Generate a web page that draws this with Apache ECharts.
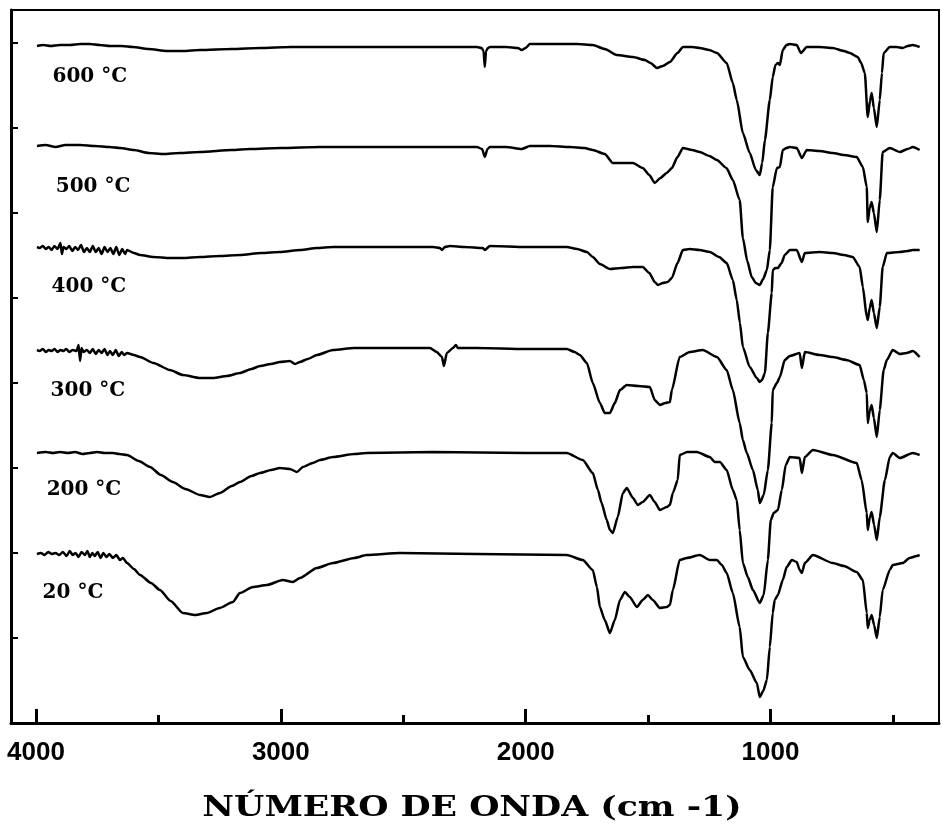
<!DOCTYPE html>
<html>
<head>
<meta charset="utf-8">
<script src="https://cdn.jsdelivr.net/npm/echarts@6/dist/echarts.min.js"></script>
<style>
  html, body { margin: 0; padding: 0; background: #ffffff; }
  #chart { width: 942px; height: 828px; }
</style>
</head>
<body>
<div id="chart"></div>
<script>
// FTIR spectra of the calcined samples: [wavenumber (cm-1), transmittance (a.u., stacked)]
const temperatures = ['600 °C', '500 °C', '400 °C', '300 °C', '200 °C', '20 °C'];
const axisTitle = 'NÚMERO DE ONDA (cm -1)';

const spectrum600 = [
  [3996,677],[3970,678],[3940,677],[3902,678],[3860,678],[3820,679],[3780,679],[3740,678],[3698,677],[3650,677],
  [3604,676],[3540,674],[3465,672],[3400,672],[3330,673],[3200,674],[3085,675],[2960,676],[2840,676],[2700,676],
  [2514,676],[2350,676],[2199,676],[2180,675],[2172,672],[2167,656],[2162,672],[2154,675],[2146,676],[2080,676],
  [2032,675],[2016,673],[2000,675],[1983,679],[1920,679],[1860,679],[1790,679],[1726,678],[1677,674],[1628,668],
  [1562,666],[1513,663],[1490,660],[1464,655],[1440,657],[1411,661],[1380,670],[1358,676],[1320,676],[1289,675],
  [1250,673],[1219,670],[1179,660],[1154,640],[1138,623],[1113,590],[1085,570],[1060,553],[1044,548],[1034,560],
  [1023,583],[1003,623],[991,646],[980,658],[970,660],[962,658],[950,673],[935,678],[921,679],[893,678],
  [876,670],[852,676],[800,676],[746,675],[700,672],[676,670],[644,666],[630,660],[615,650],[603,606],
  [594,622],[587,630],[578,615],[566,596],[554,623],[545,650],[538,670],[513,676],[485,676],[460,675],
  [440,677],[419,678],[391,676]
];

const spectrum500 = [
  [3996,577],[3960,578],[3920,576],[3880,578],[3820,578],[3760,577],[3700,576],[3657,575],[3600,573],[3540,570],
  [3481,569],[3412,570],[3330,571],[3200,573],[3126,574],[3000,575],[2840,576],[2700,576],[2514,576],[2350,576],
  [2199,576],[2178,574],[2167,566],[2156,574],[2146,576],[2080,576],[2016,574],[1983,577],[1900,577],[1820,576],
  [1760,575],[1726,573],[1677,569],[1644,560],[1600,560],[1562,560],[1522,555],[1495,548],[1473,540],[1450,545],
  [1424,550],[1403,555],[1380,566],[1358,575],[1320,573],[1289,571],[1250,567],[1219,563],[1180,555],[1154,543],
  [1126,523],[1113,485],[1095,462],[1077,446],[1060,440],[1044,438],[1030,444],[1015,453],[1003,473],[991,536],
  [974,555],[962,556],[950,573],[935,575],[921,576],[893,575],[872,565],[852,573],[800,572],[746,570],
  [700,568],[648,566],[623,556],[607,536],[603,501],[595,515],[587,521],[578,510],[566,491],[554,523],
  [542,571],[513,575],[472,571],[440,574],[419,576],[391,573]
];

const spectrum400 = [
  [3996,476],[3985,475],[3972,477],[3960,474],[3948,476],[3936,473],[3925,477],[3912,474],[3900,480],[3894,469],
  [3888,476],[3876,474],[3864,477],[3852,472],[3840,476],[3828,473],[3816,478],[3804,471],[3792,475],[3780,471],
  [3768,477],[3756,471],[3744,475],[3732,469],[3720,476],[3708,471],[3696,475],[3684,469],[3672,476],[3660,468],
  [3648,474],[3636,469],[3628,473],[3600,470],[3575,468],[3520,466],[3453,465],[3400,465],[3330,466],[3250,467],
  [3167,468],[3080,470],[3004,471],[2920,473],[2853,475],[2787,476],[2600,476],[2379,476],[2350,475],[2342,473],
  [2330,476],[2310,477],[2250,476],[2175,475],[2167,473],[2146,477],[2000,476],[1832,476],[1790,474],[1750,471],
  [1726,466],[1697,459],[1656,454],[1610,455],[1562,456],[1522,456],[1495,450],[1473,441],[1460,438],[1440,440],
  [1420,441],[1403,445],[1380,460],[1358,473],[1330,474],[1290,473],[1248,471],[1210,466],[1179,460],[1154,443],
  [1138,423],[1125,400],[1113,376],[1085,356],[1056,345],[1044,341],[1035,343],[1023,350],[1011,390],[995,430],
  [991,453],[980,455],[970,455],[955,460],[942,468],[921,473],[893,473],[872,461],[860,470],[800,471],
  [746,470],[700,468],[664,466],[636,456],[623,436],[607,406],[603,403],[595,415],[587,423],[578,410],
  [566,395],[554,416],[542,456],[525,470],[472,471],[440,472],[419,473],[391,473]
];

const spectrum300 = [
  [3996,373],[3985,372],[3972,374],[3960,371],[3948,373],[3936,372],[3924,374],[3912,371],[3900,373],[3888,372],
  [3876,374],[3864,371],[3850,373],[3834,372],[3826,378],[3820,362],[3814,375],[3806,371],[3792,373],[3780,370],
  [3768,374],[3756,369],[3744,373],[3732,370],[3720,374],[3708,368],[3698,372],[3686,368],[3674,373],[3662,367],
  [3650,371],[3640,368],[3628,370],[3600,368],[3575,366],[3520,360],[3453,353],[3400,348],[3330,345],[3277,345],
  [3220,347],[3167,350],[3120,354],[3085,357],[3040,359],[3004,361],[2963,362],[2942,359],[2922,361],[2890,364],
  [2853,368],[2787,373],[2700,375],[2649,375],[2500,375],[2391,375],[2363,371],[2342,366],[2334,357],[2322,370],
  [2297,375],[2285,378],[2277,375],[2200,375],[2000,374],[1832,374],[1800,371],[1779,368],[1750,360],[1726,340],
  [1697,320],[1677,310],[1656,310],[1636,320],[1615,333],[1587,338],[1540,337],[1493,336],[1473,323],[1452,318],
  [1430,320],[1411,321],[1403,333],[1371,366],[1330,371],[1277,373],[1219,366],[1179,353],[1154,333],[1126,300],
  [1113,283],[1097,270],[1072,253],[1052,233],[1044,220],[1028,228],[1011,253],[995,300],[991,333],[974,340],
  [962,346],[942,363],[921,367],[881,370],[872,355],[860,371],[800,368],[746,366],[690,363],[636,358],
  [619,343],[607,330],[603,300],[595,312],[587,318],[578,305],[566,286],[554,313],[538,353],[525,363],
  [501,373],[472,369],[444,370],[419,372],[391,366]
];

const spectrum200 = [
  [3996,270],[3960,271],[3930,270],[3902,271],[3870,270],[3840,271],[3810,269],[3780,270],[3750,271],[3720,270],
  [3686,270],[3660,269],[3628,268],[3580,262],[3534,256],[3490,248],[3441,241],[3390,234],[3330,228],[3290,226],
  [3249,230],[3200,237],[3167,241],[3120,247],[3085,250],[3040,253],[3004,255],[2963,254],[2934,251],[2910,256],
  [2870,260],[2840,263],[2787,266],[2700,269],[2649,270],[2379,271],[2000,270],[1832,270],[1767,263],[1726,250],
  [1705,233],[1690,220],[1669,203],[1656,193],[1644,190],[1624,206],[1603,230],[1587,235],[1562,225],[1542,218],
  [1522,221],[1493,228],[1473,221],[1452,213],[1424,216],[1411,218],[1399,230],[1379,243],[1371,268],[1340,271],
  [1301,271],[1248,266],[1228,261],[1207,261],[1179,253],[1154,233],[1138,223],[1126,193],[1113,160],[1093,146],
  [1072,133],[1044,120],[1028,128],[1011,163],[999,203],[987,210],[970,213],[954,233],[938,258],[921,266],
  [881,265],[872,250],[860,266],[827,273],[746,268],[648,260],[628,243],[607,210],[603,193],[595,205],
  [587,211],[577,198],[566,183],[554,206],[533,243],[513,266],[501,270],[472,265],[419,270],[391,268]
];

const spectrum20 = [
  [3996,169],[3980,170],[3965,168],[3950,171],[3935,169],[3920,170],[3905,168],[3890,171],[3875,167],[3862,172],
  [3850,168],[3838,170],[3826,166],[3814,171],[3800,168],[3790,172],[3780,166],[3770,170],[3760,167],[3748,171],
  [3736,165],[3725,170],[3712,166],[3700,169],[3686,165],[3672,168],[3657,163],[3645,165],[3628,160],[3600,154],
  [3575,148],[3530,140],[3494,133],[3450,122],[3400,110],[3350,108],[3302,110],[3250,115],[3196,121],[3167,130],
  [3114,136],[3057,138],[2992,143],[2951,141],[2922,145],[2853,155],[2787,160],[2700,165],[2649,168],[2514,170],
  [2200,169],[1832,168],[1767,163],[1726,153],[1709,136],[1697,116],[1677,103],[1656,90],[1636,103],[1615,123],
  [1595,131],[1575,126],[1546,116],[1522,123],[1501,128],[1481,123],[1452,115],[1424,116],[1411,118],[1399,133],
  [1371,163],[1342,165],[1289,168],[1248,163],[1219,163],[1199,158],[1179,150],[1154,130],[1126,96],[1113,66],
  [1085,53],[1056,40],[1044,26],[1030,32],[1015,43],[1003,76],[991,110],[983,123],[970,128],[950,143],
  [934,156],[913,163],[893,161],[881,153],[872,150],[860,160],[827,168],[746,160],[700,157],[648,151],
  [623,143],[607,110],[603,95],[595,103],[587,108],[577,98],[566,85],[554,106],[542,133],[513,153],
  [501,158],[460,160],[432,165],[403,167],[391,168]
];

const majorTicks = [4000, 3000, 2000, 1000];
const minorTicks = [3500, 2500, 1500, 500];
const levelTicks = [85, 170, 255, 340, 425, 510, 595, 680];

const spectra = [spectrum600, spectrum500, spectrum400, spectrum300, spectrum200, spectrum20];

// where each temperature tag sits: wavenumber, and how far below the curve start
const tagPlacement = [[3780, 31], [3767, 41], [3784, 40], [3788, 41], [3804, 37], [3849, 39]];

const chart = echarts.init(document.getElementById('chart'), null, { renderer: 'canvas' });

const xRange = { min: 312, max: 4102 };
const gridBox = { left: 11, right: 3, top: 10, bottom: 105 };

chart.setOption({
  animation: false,
  backgroundColor: '#ffffff',
  grid: {
    left: gridBox.left, right: gridBox.right, top: gridBox.top, bottom: gridBox.bottom,
    show: true, borderColor: '#000', borderWidth: 2, backgroundColor: 'transparent'
  },
  // wide, letter-spaced serif caption under the wavenumber axis
  graphic: [{
    type: 'text',
    x: 472,
    y: 809,
    scaleX: 1.24,
    silent: true,
    style: {
      text: axisTitle,
      align: 'center',
      verticalAlign: 'middle',
      font: 'bold 28px "DejaVu Serif"',
      fill: '#000'
    }
  }],
  xAxis: [
    {
      type: 'value', inverse: true, min: xRange.min, max: xRange.max,
      axisLine: { onZero: false, lineStyle: { color: '#000', width: 3 } },
      axisTick: { inside: true, length: 14, customValues: majorTicks, lineStyle: { color: '#000', width: 3 } },
      axisLabel: {
        customValues: majorTicks, color: '#000', margin: 17,
        formatter: (v) => String(v),
        fontFamily: 'Liberation Sans', fontWeight: 'bold', fontSize: 26
      },
      splitLine: { show: false }
    },
    {
      type: 'value', inverse: true, min: xRange.min, max: xRange.max, position: 'bottom',
      axisLine: { show: false },
      axisTick: { inside: true, length: 8, customValues: minorTicks, lineStyle: { color: '#000', width: 3 } },
      axisLabel: { show: false },
      splitLine: { show: false }
    }
  ],
  yAxis: {
    type: 'value', min: 0, max: 713,
    axisLine: { show: true, onZero: false, lineStyle: { color: '#000', width: 3 } },
    axisTick: { show: true, inside: true, length: 7, customValues: levelTicks, lineStyle: { color: '#000', width: 2 } },
    axisLabel: { show: false },
    splitLine: { show: false }
  },
  series: spectra.map((data, i) => ({
    type: 'line',
    name: temperatures[i],
    data: data,
    xAxisIndex: 0,
    yAxisIndex: 0,
    symbol: 'none',
    showSymbol: false,
    silent: true,
    smooth: 0.2,
    smoothMonotone: 'x',
    lineStyle: { color: '#000', width: 2.5, join: 'round' },
    markPoint: {
      symbol: 'circle',
      symbolSize: 0,
      silent: true,
      label: {
        show: true, position: 'inside', formatter: temperatures[i], color: '#000',
        fontFamily: 'DejaVu Serif', fontWeight: 'bold', fontSize: 20
      },
      data: [{ coord: [tagPlacement[i][0], data[0][1] - tagPlacement[i][1]] }]
    }
  }))
});
</script>
</body>
</html>
